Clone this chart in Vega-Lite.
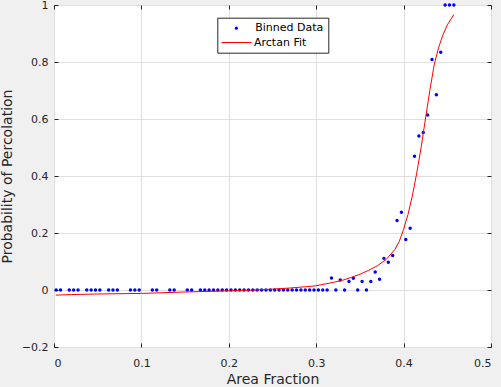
{
  "$schema": "https://vega.github.io/schema/vega-lite/v6.json",
  "width": 437,
  "height": 342,
  "autosize": {"type": "none"},
  "padding": {"left": 54, "top": 5, "right": 10, "bottom": 40},
  "background": "#f0f0f0",
  "config": {
    "view": {"fill": "white", "stroke": "#262626", "strokeWidth": 1},
    "font": "DejaVu Sans",
    "axis": {
      "domain": false,
      "gridColor": "#dfdfdf",
      "gridOpacity": 1,
      "tickColor": "#262626",
      "tickSize": -4,
      "labelColor": "#262626",
      "labelFontSize": 11,
      "titleColor": "#262626",
      "titleFontSize": 14,
      "titleFontWeight": "normal"
    }
  },
  "datasets": {
    "pts": [
      {"x": 0.0025, "y": 0, "series": "Binned Data"},
      {"x": 0.0075, "y": 0, "series": "Binned Data"},
      {"x": 0.0175, "y": 0, "series": "Binned Data"},
      {"x": 0.0225, "y": 0, "series": "Binned Data"},
      {"x": 0.0275, "y": 0, "series": "Binned Data"},
      {"x": 0.0375, "y": 0, "series": "Binned Data"},
      {"x": 0.0425, "y": 0, "series": "Binned Data"},
      {"x": 0.0475, "y": 0, "series": "Binned Data"},
      {"x": 0.0525, "y": 0, "series": "Binned Data"},
      {"x": 0.0625, "y": 0, "series": "Binned Data"},
      {"x": 0.0675, "y": 0, "series": "Binned Data"},
      {"x": 0.0725, "y": 0, "series": "Binned Data"},
      {"x": 0.0875, "y": 0, "series": "Binned Data"},
      {"x": 0.0925, "y": 0, "series": "Binned Data"},
      {"x": 0.0975, "y": 0, "series": "Binned Data"},
      {"x": 0.1125, "y": 0, "series": "Binned Data"},
      {"x": 0.1175, "y": 0, "series": "Binned Data"},
      {"x": 0.1325, "y": 0, "series": "Binned Data"},
      {"x": 0.1375, "y": 0, "series": "Binned Data"},
      {"x": 0.1525, "y": 0, "series": "Binned Data"},
      {"x": 0.1575, "y": 0, "series": "Binned Data"},
      {"x": 0.1675, "y": 0, "series": "Binned Data"},
      {"x": 0.1725, "y": 0, "series": "Binned Data"},
      {"x": 0.1775, "y": 0, "series": "Binned Data"},
      {"x": 0.1825, "y": 0, "series": "Binned Data"},
      {"x": 0.1875, "y": 0, "series": "Binned Data"},
      {"x": 0.1925, "y": 0, "series": "Binned Data"},
      {"x": 0.1975, "y": 0, "series": "Binned Data"},
      {"x": 0.2025, "y": 0, "series": "Binned Data"},
      {"x": 0.2075, "y": 0, "series": "Binned Data"},
      {"x": 0.2125, "y": 0, "series": "Binned Data"},
      {"x": 0.2175, "y": 0, "series": "Binned Data"},
      {"x": 0.2225, "y": 0, "series": "Binned Data"},
      {"x": 0.2275, "y": 0, "series": "Binned Data"},
      {"x": 0.2325, "y": 0, "series": "Binned Data"},
      {"x": 0.2375, "y": 0, "series": "Binned Data"},
      {"x": 0.2425, "y": 0, "series": "Binned Data"},
      {"x": 0.2475, "y": 0, "series": "Binned Data"},
      {"x": 0.2525, "y": 0, "series": "Binned Data"},
      {"x": 0.2575, "y": 0, "series": "Binned Data"},
      {"x": 0.2625, "y": 0, "series": "Binned Data"},
      {"x": 0.2675, "y": 0, "series": "Binned Data"},
      {"x": 0.2725, "y": 0, "series": "Binned Data"},
      {"x": 0.2775, "y": 0, "series": "Binned Data"},
      {"x": 0.2825, "y": 0, "series": "Binned Data"},
      {"x": 0.2875, "y": 0, "series": "Binned Data"},
      {"x": 0.2925, "y": 0, "series": "Binned Data"},
      {"x": 0.2975, "y": 0, "series": "Binned Data"},
      {"x": 0.3025, "y": 0, "series": "Binned Data"},
      {"x": 0.3075, "y": 0, "series": "Binned Data"},
      {"x": 0.3125, "y": 0, "series": "Binned Data"},
      {"x": 0.3175, "y": 0.042, "series": "Binned Data"},
      {"x": 0.3225, "y": 0, "series": "Binned Data"},
      {"x": 0.3275, "y": 0.035, "series": "Binned Data"},
      {"x": 0.3325, "y": 0, "series": "Binned Data"},
      {"x": 0.3375, "y": 0.030, "series": "Binned Data"},
      {"x": 0.3425, "y": 0.041, "series": "Binned Data"},
      {"x": 0.3475, "y": 0, "series": "Binned Data"},
      {"x": 0.3525, "y": 0.030, "series": "Binned Data"},
      {"x": 0.3575, "y": 0, "series": "Binned Data"},
      {"x": 0.3625, "y": 0.030, "series": "Binned Data"},
      {"x": 0.3675, "y": 0.063, "series": "Binned Data"},
      {"x": 0.3725, "y": 0.038, "series": "Binned Data"},
      {"x": 0.3775, "y": 0.111, "series": "Binned Data"},
      {"x": 0.3825, "y": 0.097, "series": "Binned Data"},
      {"x": 0.3875, "y": 0.121, "series": "Binned Data"},
      {"x": 0.3925, "y": 0.244, "series": "Binned Data"},
      {"x": 0.3975, "y": 0.273, "series": "Binned Data"},
      {"x": 0.4025, "y": 0.177, "series": "Binned Data"},
      {"x": 0.4075, "y": 0.217, "series": "Binned Data"},
      {"x": 0.4125, "y": 0.469, "series": "Binned Data"},
      {"x": 0.4175, "y": 0.540, "series": "Binned Data"},
      {"x": 0.4225, "y": 0.553, "series": "Binned Data"},
      {"x": 0.4275, "y": 0.614, "series": "Binned Data"},
      {"x": 0.4325, "y": 0.809, "series": "Binned Data"},
      {"x": 0.4375, "y": 0.685, "series": "Binned Data"},
      {"x": 0.4425, "y": 0.834, "series": "Binned Data"},
      {"x": 0.4475, "y": 1, "series": "Binned Data"},
      {"x": 0.4525, "y": 1, "series": "Binned Data"},
      {"x": 0.4575, "y": 1, "series": "Binned Data"}
    ],
    "fit": [
      {"x": 0.002, "y": -0.018, "series": "Arctan Fit"},
      {"x": 0.02, "y": -0.016, "series": "Arctan Fit"},
      {"x": 0.05, "y": -0.014, "series": "Arctan Fit"},
      {"x": 0.1, "y": -0.012, "series": "Arctan Fit"},
      {"x": 0.15, "y": -0.007, "series": "Arctan Fit"},
      {"x": 0.2, "y": -0.003, "series": "Arctan Fit"},
      {"x": 0.23, "y": 0.0, "series": "Arctan Fit"},
      {"x": 0.25, "y": 0.003, "series": "Arctan Fit"},
      {"x": 0.27, "y": 0.007, "series": "Arctan Fit"},
      {"x": 0.29, "y": 0.012, "series": "Arctan Fit"},
      {"x": 0.30, "y": 0.015, "series": "Arctan Fit"},
      {"x": 0.31, "y": 0.021, "series": "Arctan Fit"},
      {"x": 0.32, "y": 0.027, "series": "Arctan Fit"},
      {"x": 0.33, "y": 0.034, "series": "Arctan Fit"},
      {"x": 0.34, "y": 0.044, "series": "Arctan Fit"},
      {"x": 0.35, "y": 0.055, "series": "Arctan Fit"},
      {"x": 0.36, "y": 0.069, "series": "Arctan Fit"},
      {"x": 0.37, "y": 0.085, "series": "Arctan Fit"},
      {"x": 0.38, "y": 0.107, "series": "Arctan Fit"},
      {"x": 0.39, "y": 0.142, "series": "Arctan Fit"},
      {"x": 0.395, "y": 0.17, "series": "Arctan Fit"},
      {"x": 0.40, "y": 0.213, "series": "Arctan Fit"},
      {"x": 0.405, "y": 0.265, "series": "Arctan Fit"},
      {"x": 0.41, "y": 0.33, "series": "Arctan Fit"},
      {"x": 0.415, "y": 0.41, "series": "Arctan Fit"},
      {"x": 0.42, "y": 0.50, "series": "Arctan Fit"},
      {"x": 0.425, "y": 0.60, "series": "Arctan Fit"},
      {"x": 0.43, "y": 0.70, "series": "Arctan Fit"},
      {"x": 0.435, "y": 0.79, "series": "Arctan Fit"},
      {"x": 0.44, "y": 0.85, "series": "Arctan Fit"},
      {"x": 0.445, "y": 0.895, "series": "Arctan Fit"},
      {"x": 0.45, "y": 0.93, "series": "Arctan Fit"},
      {"x": 0.4575, "y": 0.967, "series": "Arctan Fit"}
    ]
  },
  "layer": [
    {
      "data": {"name": "pts"},
      "mark": {"type": "point", "filled": true, "size": 12, "opacity": 1},
      "encoding": {
        "x": {
          "field": "x", "type": "quantitative",
          "scale": {"domain": [0, 0.5], "nice": false, "zero": false},
          "axis": {"orient": "bottom", "values": [0, 0.1, 0.2, 0.3, 0.4, 0.5], "format": "~g", "title": "Area Fraction", "labelPadding": 14, "titlePadding": 4}
        },
        "y": {
          "field": "y", "type": "quantitative",
          "scale": {"domain": [-0.2, 1], "nice": false, "zero": false},
          "axis": {"orient": "left", "values": [-0.2, 0, 0.2, 0.4, 0.6, 0.8, 1], "format": "~g", "title": "Probability of Percolation", "labelPadding": 10, "titlePadding": 7}
        },
        "fill": {
          "field": "series", "type": "nominal",
          "scale": {"domain": ["Binned Data"], "range": ["#0000ff"]},
          "legend": {
            "orient": "none", "legendX": 163.3, "legendY": 12.7,
            "title": "\u00a0", "titleOrient": "bottom", "titleFontSize": 11, "titlePadding": 3,
            "direction": "vertical", "zindex": 1,
            "fillColor": "white", "strokeColor": "#262626",
            "padding": 5, "labelFontSize": 11, "labelColor": "black",
            "symbolType": "circle", "symbolSize": 10, "symbolOffset": 8.6,
            "symbolStrokeWidth": 0, "symbolOpacity": 1,
            "labelOffset": 13.3
          }
        }
      }
    },
    {
      "data": {"name": "fit"},
      "mark": {"type": "line", "strokeWidth": 1},
      "encoding": {
        "x": {"field": "x", "type": "quantitative", "axis": {"orient": "top", "values": [0, 0.1, 0.2, 0.3, 0.4, 0.5], "labels": false, "grid": false, "title": null}},
        "y": {"field": "y", "type": "quantitative", "axis": {"orient": "right", "values": [-0.2, 0, 0.2, 0.4, 0.6, 0.8, 1], "labels": false, "grid": false, "title": null}},
        "stroke": {
          "field": "series", "type": "nominal",
          "scale": {"domain": ["Arctan Fit"], "range": ["#ff0000"]},
          "legend": {
            "orient": "none", "legendX": 167, "legendY": 22,
            "title": null, "direction": "vertical", "zindex": 2,
            "padding": 0, "labelFontSize": 11, "labelColor": "black",
            "symbolType": "stroke", "symbolSize": 900, "symbolStrokeWidth": 1,
            "labelOffset": 2
          }
        }
      }
    }
  ],
  "resolve": {"axis": {"x": "independent", "y": "independent"}}
}
